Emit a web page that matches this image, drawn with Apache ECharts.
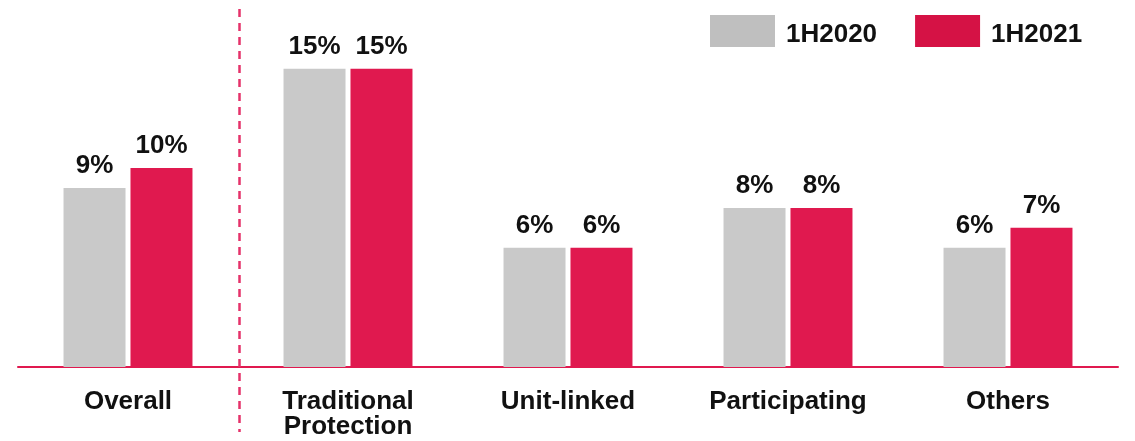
<!DOCTYPE html>
<html>
<head>
<meta charset="utf-8">
<script src="https://cdn.jsdelivr.net/npm/echarts@6/dist/echarts.min.js"></script>
<style>
  html, body { margin: 0; padding: 0; background: #ffffff; }
  #chart { width: 1135px; height: 441px; }
</style>
</head>
<body>
<div id="chart"></div>
<script>
// Categories and half-year values (%)
const categories = ['Overall', 'Traditional\nProtection', 'Unit-linked', 'Participating', 'Others'];
const seriesNames = ['1H2020', '1H2021'];
const values2020 = [9, 15, 6, 8, 6];
const values2021 = [10, 15, 6, 8, 7];

const FONT = "'Liberation Sans', Arial, Helvetica, sans-serif";
const FONT_SIZE = 26;
const GREY = '#C9C9C9';
const RED = '#E0194F';

const chart = echarts.init(document.getElementById('chart'), null, { renderer: 'canvas' });

const labelStyle = {
  show: true,
  position: 'top',
  distance: 9,
  formatter: '{c}%',
  color: '#111111',
  fontFamily: FONT,
  fontWeight: 'bold',
  fontSize: FONT_SIZE
};

chart.setOption({
  animation: false,
  backgroundColor: '#ffffff',
  grid: { left: 18, right: 17, top: 9, bottom: 74, containLabel: false },
  legend: {
    left: 710,
    top: 15,
    padding: 0,
    itemWidth: 65,
    itemHeight: 32,
    itemGap: 38,
    icon: 'rect',
    data: [
      { name: seriesNames[0], itemStyle: { color: '#BFBFBF' } },
      { name: seriesNames[1], itemStyle: { color: '#D51245' } }
    ],
    formatter: '{t|{name}}',
    textStyle: {
      color: '#111111',
      fontFamily: FONT,
      fontWeight: 'bold',
      fontSize: FONT_SIZE,
      padding: [0, 0, 0, 6],
      rich: {
        t: {
          color: '#111111',
          fontFamily: FONT,
          fontWeight: 'bold',
          fontSize: FONT_SIZE,
          padding: [8, 0, 0, 0]
        }
      }
    }
  },
  xAxis: {
    type: 'category',
    data: categories,
    axisLine: { show: true, lineStyle: { color: RED, width: 2 } },
    axisTick: { show: false },
    axisLabel: {
      margin: 22,
      color: '#111111',
      fontFamily: FONT,
      fontWeight: 'bold',
      fontSize: FONT_SIZE,
      lineHeight: 25,
      interval: 0
    }
  },
  yAxis: {
    type: 'value',
    min: 0,
    max: 18,
    show: false,
    splitLine: { show: false }
  },
  series: [
    {
      name: seriesNames[0],
      type: 'bar',
      data: values2020,
      barWidth: 62,
      barGap: '8%',
      itemStyle: { color: GREY },
      label: labelStyle
    },
    {
      name: seriesNames[1],
      type: 'bar',
      data: values2021,
      barWidth: 62,
      barGap: '8%',
      itemStyle: { color: RED },
      label: labelStyle
    }
  ]
});

// Dashed divider between the overall figure and the product lines
const p0 = chart.convertToPixel({ xAxisIndex: 0 }, 0);
const p1 = chart.convertToPixel({ xAxisIndex: 0 }, 1);
const dividerX = Math.round((p0 + p1) / 2) + 1.5;
chart.setOption({
  graphic: [{
    type: 'line',
    z: 10,
    shape: { x1: dividerX, y1: 9, x2: dividerX, y2: 432 },
    style: { stroke: '#E5326A', lineWidth: 2.5, lineDash: [8, 6] }
  }]
});
</script>
</body>
</html>
